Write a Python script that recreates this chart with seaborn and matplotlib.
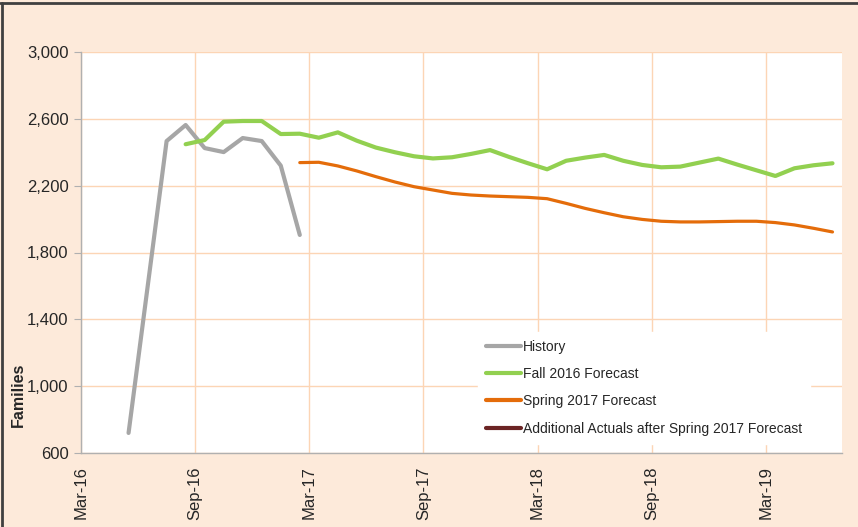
import numpy as np
import pandas as pd
import matplotlib
matplotlib.use("Agg")
import matplotlib.pyplot as plt
import seaborn as sns
from matplotlib.lines import Line2D

# ---- data (month index: 0 = Mar-16; points plotted mid-month) ----
history_months = [2, 4, 5, 6, 7, 8, 9, 10, 11]
history_values = [720, 2467, 2563, 2425, 2401, 2485, 2467, 2320, 1905]

fall16_months = list(range(5, 40))
fall16_values = [2448, 2473, 2583, 2587, 2587, 2509, 2511, 2487, 2519, 2469,
                 2428, 2400, 2376, 2363, 2370, 2390, 2413, 2372, 2334, 2298,
                 2349, 2368, 2384, 2349, 2324, 2310, 2314, 2338, 2362, 2326,
                 2292, 2258, 2304, 2322, 2334]

spring17_months = list(range(11, 40))
spring17_values = [2338, 2340, 2318, 2288, 2254, 2222, 2194, 2174, 2154, 2144,
                   2138, 2134, 2130, 2122, 2094, 2064, 2038, 2014, 1998, 1987,
                   1983, 1983, 1985, 1987, 1987, 1979, 1965, 1945, 1923]

series_names = ["History", "Fall 2016 Forecast", "Spring 2017 Forecast",
                "Additional Actuals after Spring 2017 Forecast"]
tick_labels = ["Mar-16", "Sep-16", "Mar-17", "Sep-17", "Mar-18", "Sep-18", "Mar-19"]
y_ticks = [600, 1000, 1400, 1800, 2200, 2600, 3000]

colors = {"History": "#A6A6A6", "Fall 2016 Forecast": "#92D050",
          "Spring 2017 Forecast": "#E46C0A",
          "Additional Actuals after Spring 2017 Forecast": "#6B2424"}
widths = {"History": 3.0, "Fall 2016 Forecast": 3.0,
          "Spring 2017 Forecast": 2.3,
          "Additional Actuals after Spring 2017 Forecast": 2.3}

df = pd.concat([
    pd.DataFrame({"month": np.array(history_months) + 0.5, "families": history_values, "series": series_names[0]}),
    pd.DataFrame({"month": np.array(fall16_months) + 0.5, "families": fall16_values, "series": series_names[1]}),
    pd.DataFrame({"month": np.array(spring17_months) + 0.5, "families": spring17_values, "series": series_names[2]}),
], ignore_index=True)

sns.set_style("white")
plt.rcParams["font.family"] = ["Liberation Sans", "DejaVu Sans"]

fig = plt.figure(figsize=(8.58, 5.27), dpi=100)
fig.patch.set_facecolor("#FDEADA")
ax = fig.add_axes([81/858, 1-453/527, (842-81)/858, (453-52)/527])
ax.set_facecolor("white")

for name in series_names[:3]:
    sub = df[df["series"] == name]
    sns.lineplot(data=sub, x="month", y="families", ax=ax, color=colors[name],
                 linewidth=widths[name], solid_capstyle="round", legend=False)

ax.set_xlim(0, 40)
ax.set_ylim(600, 3000)
ax.set_xticks(range(0, 37, 6))
ax.set_xticklabels(tick_labels, rotation=90, fontsize=12)
ax.set_yticks(y_ticks)
ax.set_yticklabels([f"{v:,}" for v in y_ticks], fontsize=12)
ax.grid(True, color="#FCD5B5", linewidth=1.0)
ax.set_axisbelow(True)
for s in ["top", "right"]:
    ax.spines[s].set_visible(False)
for s in ["left", "bottom"]:
    ax.spines[s].set_color("#B0B0B0")
    ax.spines[s].set_linewidth(1.0)
ax.tick_params(axis="y", which="both", left=True, length=5, color="#B0B0B0", pad=4)
ax.tick_params(axis="x", which="both", bottom=False, pad=6)
ax.set_xlabel("")
ax.set_ylabel("")

fig.text(18/858, 1-395/527, "Families", rotation=90, fontsize=11.5,
         fontweight="bold", ha="center", va="center")

handles = [Line2D([0], [0], color=colors[n], linewidth=3.0,
                  solid_capstyle="round") for n in series_names]
leg = ax.legend(handles, series_names, loc="upper left", bbox_to_anchor=(0.512, 0.32),
                frameon=True, fancybox=False, fontsize=10, handlelength=2.5,
                handletextpad=0.15, labelspacing=0.95, borderpad=0.6)
leg.get_frame().set_facecolor("white")
leg.get_frame().set_edgecolor("white")
leg.get_frame().set_alpha(1.0)

# figure border (top and left visible)
fig.add_artist(Line2D([0.002, 0.002], [0, 0.995], transform=fig.transFigure, color="#404040", linewidth=2))
fig.add_artist(Line2D([0.0, 1.0], [0.994, 0.994], transform=fig.transFigure, color="#404040", linewidth=2))

fig.savefig("out.png", dpi=100, facecolor=fig.get_facecolor())
